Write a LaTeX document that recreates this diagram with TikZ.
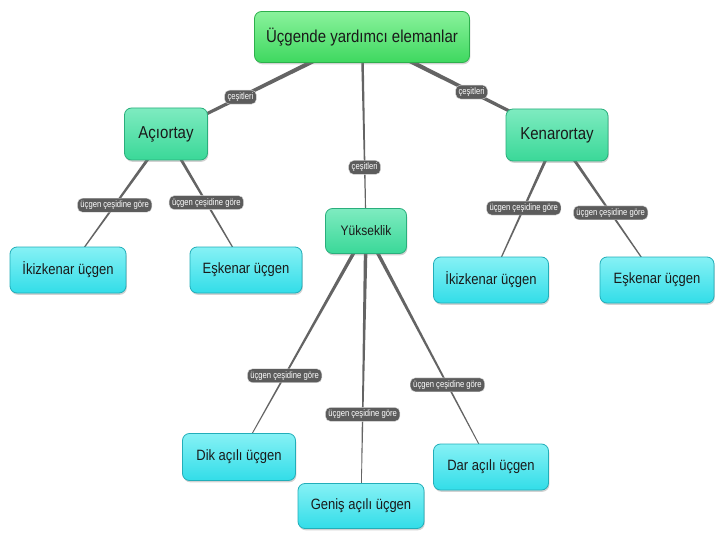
\documentclass[tikz,border=0pt]{standalone}
\usepackage{graphicx}
\usepackage{fontspec}
\setmainfont{Liberation Sans}
\usetikzlibrary{calc,shadows,backgrounds}
\definecolor{textc}{HTML}{1A1A1A}
\definecolor{rootL}{HTML}{8AF29C}
\definecolor{rootB}{HTML}{3ED85F}
\definecolor{rootD}{HTML}{2DB04C}
\definecolor{midL}{HTML}{7EEBC0}
\definecolor{midB}{HTML}{3AD898}
\definecolor{midD}{HTML}{2AAE7C}
\definecolor{leafL}{HTML}{86F1F5}
\definecolor{leafB}{HTML}{32DDE8}
\definecolor{leafD}{HTML}{22AEB9}
\definecolor{linec}{HTML}{646464}
\definecolor{labc}{HTML}{5C5C5C}
\newcommand{\taper}[4]{%
  \fill[linec] ($(#1)!#3!90:(#2)$) -- ($(#2)!#4!-90:(#1)$) -- ($(#2)!#4!90:(#1)$) -- ($(#1)!#3!-90:(#2)$) -- cycle;}
\newcommand{\vs}[1]{\scalebox{1}[1.15]{#1}}
\newcommand{\lt}[1]{\scalebox{0.9}[1.1]{#1}}
\begin{document}
\begin{tikzpicture}[x=1pt,y=-1pt,
  box/.style={draw, rounded corners=7pt, line width=0.8pt, align=center, inner sep=0pt,
    drop shadow={opacity=0.35,shadow xshift=0.8pt,shadow yshift=-1.8pt}, text=textc},
  rootbox/.style={box, draw=rootD, top color=rootL, bottom color=rootB, font=\fontsize{15}{18}\selectfont},
  midbox/.style={box, draw=midD, top color=midL, bottom color=midB, font=\fontsize{15}{18}\selectfont},
  leafbox/.style={box, draw=leafD, top color=leafL, bottom color=leafB, font=\fontsize{13}{16}\selectfont},
  lab/.style={fill=labc, text=white, rounded corners=5pt, inner xsep=3pt, inner ysep=2.6pt,
    font=\fontsize{8.5}{10}\selectfont, draw=white!75!gray, line width=0.4pt}]
\useasboundingbox (0,0) rectangle (720,540);

\node[rootbox, minimum width=215pt, minimum height=51pt] (root) at (362,37) {\vs{Üçgende yardımcı elemanlar}};
\node[midbox, minimum width=83pt, minimum height=52pt] (aci) at (166,134) {\vs{Açıortay}};
\node[midbox, minimum width=102pt, minimum height=52pt] (ken) at (557,135) {\vs{Kenarortay}};
\node[midbox, minimum width=81pt, minimum height=45pt, font=\fontsize{12}{14}\selectfont] (yuk) at (366,231) {\vs{Yükseklik}};
\node[leafbox, minimum width=116pt, minimum height=46pt] (ikiz1) at (68,270) {\vs{İkizkenar üçgen}};
\node[leafbox, minimum width=112pt, minimum height=46pt] (esk1) at (246,270) {\vs{Eşkenar üçgen}};
\node[leafbox, minimum width=115pt, minimum height=46pt] (ikiz2) at (491,280) {\vs{İkizkenar üçgen}};
\node[leafbox, minimum width=114pt, minimum height=46pt] (esk2) at (657,280) {\vs{Eşkenar üçgen}};
\node[leafbox, minimum width=113pt, minimum height=47pt] (dik) at (239,457) {\vs{Dik açılı üçgen}};
\node[leafbox, minimum width=126pt, minimum height=45pt] (genis) at (361,506) {\vs{Geniş açılı üçgen}};
\node[leafbox, minimum width=115pt, minimum height=46pt] (dar) at (491,467) {\vs{Dar açılı üçgen}};

\begin{pgfonlayer}{background}
  \fill[white] (0,0) rectangle (720,540);
  \taper{root}{aci}{2.4pt}{1.3pt}
  \taper{root}{ken}{2.4pt}{1.3pt}
  \taper{root}{yuk}{1.4pt}{0.4pt}
  \taper{aci}{ikiz1}{1.7pt}{0.4pt}
  \taper{aci}{esk1}{1.7pt}{0.4pt}
  \taper{ken}{ikiz2}{1.7pt}{0.4pt}
  \taper{ken}{esk2}{1.7pt}{0.4pt}
  \taper{yuk}{dik}{1.9pt}{0.3pt}
  \taper{yuk}{genis}{1.9pt}{0.2pt}
  \taper{yuk}{dar}{1.9pt}{0.3pt}
\end{pgfonlayer}

\path (root) -- (aci) node[lab, pos=0.68] {\lt{çeşitleri}};
\path (root) -- (ken) node[lab, pos=0.63] {\lt{çeşitleri}};
\path (root) -- (yuk) node[lab, pos=0.72] {\lt{çeşitleri}};
\path (aci) -- (ikiz1) node[lab, pos=0.52] {\lt{üçgen çeşidine göre}};
\path (aci) -- (esk1) node[lab, pos=0.49] {\lt{üçgen çeşidine göre}};
\path (ken) -- (ikiz2) node[lab, pos=0.49] {\lt{üçgen çeşidine göre}};
\path (ken) -- (esk2) node[lab, pos=0.54] {\lt{üçgen çeşidine göre}};
\path (yuk) -- (dik) node[lab, pos=0.68] {\lt{üçgen çeşidine göre}};
\path (yuk) -- (genis) node[lab, pos=0.70] {\lt{üçgen çeşidine göre}};
\path (yuk) -- (dar) node[lab, pos=0.69] {\lt{üçgen çeşidine göre}};
\end{tikzpicture}
\end{document}
